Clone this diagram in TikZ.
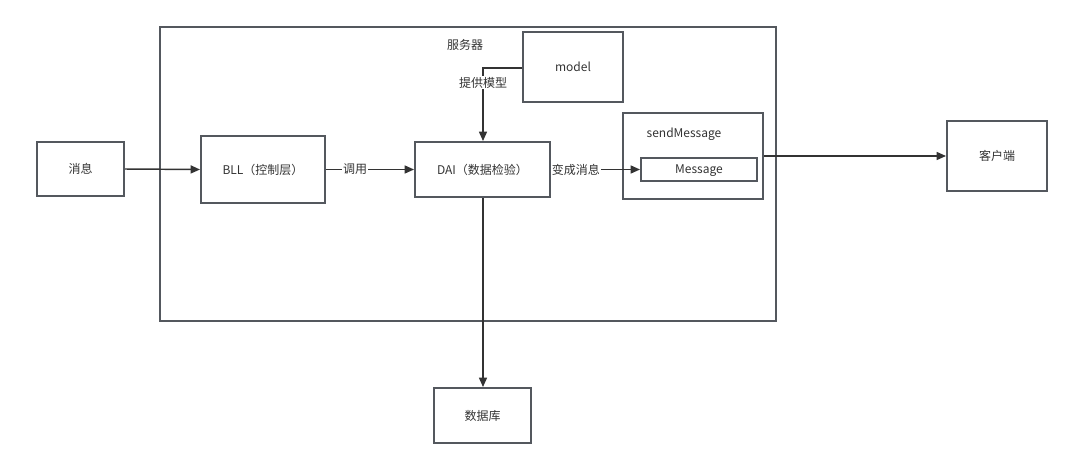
\documentclass[tikz,border=0pt]{standalone}
\usepackage{fontspec}
\setmainfont{Noto Sans CJK SC}
\usetikzlibrary{arrows.meta}
\definecolor{boxc}{RGB}{84,88,94}
\definecolor{linec}{RGB}{51,51,51}
\tikzset{
  box/.style={draw=boxc,line width=1.5pt,inner sep=0pt,font=\fontsize{9}{11}\selectfont,text=black!80},
  conn/.style={draw=linec,line width=1.1pt,-{Triangle[length=7pt,width=6pt]}},
  lbl/.style={fill=white,inner sep=1pt,font=\fontsize{9}{11}\selectfont,text=black!80},
}
\begin{document}
\begin{tikzpicture}[x=0.75pt,y=-0.75pt]
\useasboundingbox (0,0) rectangle (1072,468);
\node[box,minimum width=616*0.75pt,minimum height=294*0.75pt] (server) at (468,174) {};
\node[lbl,fill=none] (serverlbl) at (465,45) {服务器};
\node[box,minimum width=87*0.75pt,minimum height=54*0.75pt] (msg) at (80.5,169) {消息};
\node[box,minimum width=124*0.75pt,minimum height=67*0.75pt] (bll) at (263,169.5) {BLL（控制层）};
\node[box,minimum width=135*0.75pt,minimum height=55*0.75pt] (dai) at (482.5,169.5) {DAI（数据检验）};
\node[box,minimum width=100*0.75pt,minimum height=70*0.75pt] (model) at (573,67) {model};
\node[box,minimum width=140*0.75pt,minimum height=86*0.75pt] (send) at (693,156) {};
\node[lbl,fill=none] (sendlbl) at (684,134) {sendMessage};
\node[box,minimum width=116*0.75pt,minimum height=23*0.75pt,text depth=0pt] (message) at (699,169.5) {Message};
\node[box,minimum width=100*0.75pt,minimum height=70*0.75pt] (client) at (997,156) {客户端};
\node[box,minimum width=97*0.75pt,minimum height=55*0.75pt] (db) at (482.5,415.5) {数据库};
\coordinate (bend) at (483,68);
\draw[conn] (msg.east) -- (bll.west);
\draw[conn] (bll.east) -- node[lbl,pos=0.33] {调用} (dai.west);
\draw[conn] (dai.east) -- node[lbl,pos=0.28] {变成消息} (message.west);
\draw[conn] (model.west |- bend) -- (bend) -- node[lbl,pos=0.2] {提供模型} (dai.north -| bend);
\draw[conn] (send.east |- client.west) -- (client.west);
\draw[conn] (dai.south -| bend) -- (db.north -| bend);
\end{tikzpicture}
\end{document}
